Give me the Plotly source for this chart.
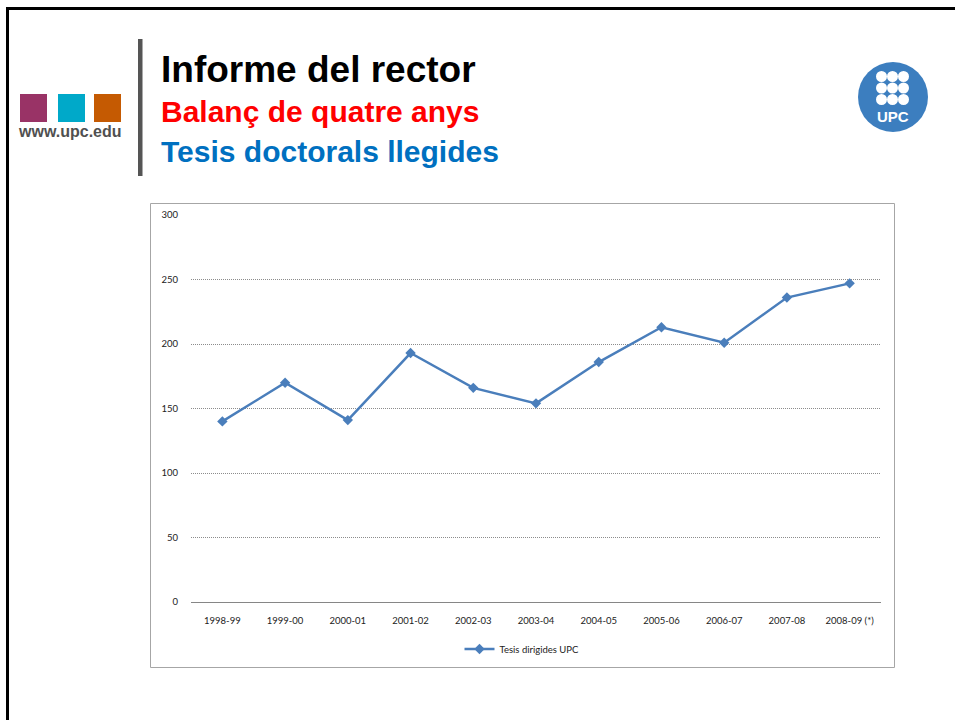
import plotly.graph_objects as go

W, H = 955, 720

years = ["1998-99", "1999-00", "2000-01", "2001-02", "2002-03", "2003-04",
         "2004-05", "2005-06", "2006-07", "2007-08", "2008-09 (*)"]
theses = [140, 170, 141, 193, 166, 154, 186, 213, 201, 236, 247]
y_ticks = [0, 50, 100, 150, 200, 250, 300]
series_name = "Tesis dirigides UPC"


def px(x):
    return x / W


def py(y):
    return 1 - y / H


fig = go.Figure()

fig.add_trace(
    go.Scatter(
        x=years,
        y=theses,
        mode="lines+markers",
        name=series_name,
        line=dict(color="#4A7EBB", width=2.5),
        marker=dict(symbol="diamond", size=8, color="#4A7EBB"),
    )
)

shapes = []
# slide frame
shapes.append(dict(type="rect", xref="paper", yref="paper",
                   x0=px(7.5), x1=px(970), y0=py(8.5), y1=py(740),
                   line=dict(color="black", width=3)))
# coloured squares
for x0, col in [(20, "#993366"), (58, "#00A9C9"), (94, "#C55A02")]:
    shapes.append(dict(type="rect", xref="paper", yref="paper",
                       x0=px(x0), x1=px(x0 + 27), y0=py(94), y1=py(122),
                       fillcolor=col, line=dict(width=0)))
# vertical bar
shapes.append(dict(type="rect", xref="paper", yref="paper",
                   x0=px(138), x1=px(142.5), y0=py(39), y1=py(176),
                   fillcolor="#555555", line=dict(width=0)))
# chart frame
shapes.append(dict(type="rect", xref="paper", yref="paper",
                   x0=px(150.5), x1=px(894.5), y0=py(203.5), y1=py(667.5),
                   line=dict(color="#A6A6A6", width=1)))
# UPC logo
cx, cy, r = 893, 97, 35
shapes.append(dict(type="circle", xref="paper", yref="paper",
                   x0=px(cx - r), x1=px(cx + r), y0=py(cy + r), y1=py(cy - r),
                   fillcolor="#3C7EBF", line=dict(width=0)))
for dy in (76.5, 88, 99.5):
    for dx in (881.5, 892.5, 903.5):
        shapes.append(dict(type="circle", xref="paper", yref="paper",
                           x0=px(dx - 5.5), x1=px(dx + 5.5),
                           y0=py(dy + 5.5), y1=py(dy - 5.5),
                           fillcolor="white", line=dict(width=0)))

title_font = "Liberation Sans, Arial"
annotations = [
    dict(text="<b>www.upc.edu</b>", x=px(16), y=py(131), xanchor="left", yanchor="middle",
         font=dict(family=title_font, size=16, color="#505050")),
    dict(text="<b>Informe del rector</b>", x=px(159), y=py(69), xanchor="left",
         yanchor="middle", font=dict(family=title_font, size=37, color="black")),
    dict(text="<b>Balanç de quatre anys</b>", x=px(159), y=py(111.5), xanchor="left",
         yanchor="middle", font=dict(family=title_font, size=30, color="#FF0000")),
    dict(text="<b>Tesis doctorals llegides</b>", x=px(159), y=py(151), xanchor="left",
         yanchor="middle", font=dict(family=title_font, size=30, color="#0070C0")),
    dict(text="<b>UPC</b>", x=px(893), y=py(117), xanchor="center", yanchor="middle",
         font=dict(family=title_font, size=15, color="white")),
]
for a in annotations:
    a.update(xref="paper", yref="paper", showarrow=False)

fig.update_layout(
    width=W,
    height=H,
    margin=dict(l=0, r=0, t=0, b=0, autoexpand=False),
    paper_bgcolor="white",
    plot_bgcolor="white",
    font=dict(family="Lato, sans-serif", size=9.5, color="#222222"),
    shapes=shapes,
    annotations=annotations,
    showlegend=True,
    legend=dict(orientation="h", x=px(522), y=py(649), xanchor="center",
                yanchor="middle", font=dict(size=9.5), bgcolor="rgba(0,0,0,0)",
                itemwidth=30),
    xaxis=dict(
        domain=[px(191), px(881)],
        type="category",
        range=[-0.5, len(years) - 0.5],
        showgrid=False,
        showline=True,
        linecolor="#868686",
        linewidth=1,
        ticks="",
        ticklabelstandoff=10,
        tickfont=dict(size=9.5),
        automargin=False,
    ),
    yaxis=dict(
        domain=[py(602), py(215)],
        range=[0, 300],
        tickvals=y_ticks,
        showgrid=True,
        gridcolor="#8C8C8C",
        griddash="1px,1px",
        gridwidth=1,
        zeroline=False,
        showline=False,
        ticks="",
        ticklabelstandoff=12,
        tickfont=dict(size=9.5),
        automargin=False,
    ),
)

fig.write_html("out.html", config={"displayModeBar": False},
               post_script="document.body.style.margin='0';")
